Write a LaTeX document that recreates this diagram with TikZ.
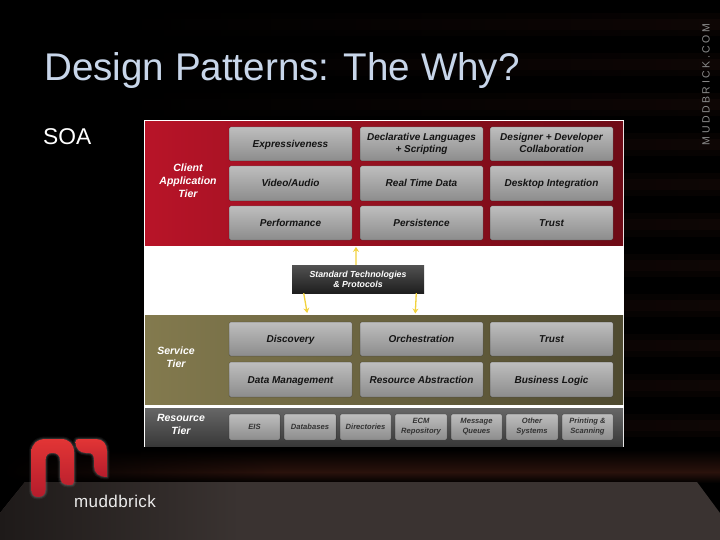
\documentclass[tikz,border=0pt]{standalone}
\usepackage{fontspec}
\setmainfont{Liberation Sans}
\usetikzlibrary{calc,arrows.meta,fadings}
\definecolor{gtop}{HTML}{BEBEBE}
\definecolor{gbot}{HTML}{8C8C8C}
\definecolor{titlecol}{HTML}{C8D6EA}
\definecolor{redL}{HTML}{B81428}
\definecolor{redR}{HTML}{6E0B16}
\definecolor{oliveL}{HTML}{837A4E}
\definecolor{oliveR}{HTML}{4F4A30}
\definecolor{resT}{HTML}{666666}
\definecolor{resB}{HTML}{383838}
\definecolor{floorA}{HTML}{3A3331}
\definecolor{floorB}{HTML}{1E1A19}
\definecolor{bandA}{HTML}{070302}
\definecolor{bandB}{HTML}{0E0605}
\definecolor{glowC}{HTML}{2A120C}
\definecolor{logoT}{HTML}{E23535}
\definecolor{logoB}{HTML}{B41C2C}
\definecolor{arrowY}{HTML}{F2D23C}
\newcommand{\mystrut}{\rule[-0.3em]{0pt}{1.3em}}
\tikzset{
  gbox/.style={rounded corners=1.5pt,top color=gtop,bottom color=gbot,draw=black,draw opacity=0.3,line width=0.5pt,inner sep=0pt,align=center,text=black!92,
    execute at begin node=\mystrut,execute at end node=\mystrut,
    font=\fontsize{10}{12}\selectfont\bfseries\itshape},
  smallbox/.style={gbox,font=\fontsize{7.6}{9.5}\selectfont\bfseries\itshape,text=black!80},
  tierlabel/.style={text=white,align=center,inner sep=0pt,font=\fontsize{10.5}{13}\selectfont\bfseries\itshape},
  panel/.style={inner sep=0pt,minimum width=478pt},
  yarrow/.style={draw=arrowY,line width=1.3pt,-{Stealth[length=5pt,width=6pt]}},
}
\newcommand{\gb}[6]{\node[#1,minimum width=#4pt,minimum height=#5pt] (#2) at (#3) {#6};}
\begin{document}
\begin{tikzpicture}[x=1pt,y=-1pt]
\useasboundingbox (0,0) rectangle (720,540);
\fill[black] (0,0) rectangle (720,540);
% faint stripes
\foreach \yy in {14,54,94,134,174,214,254,294,334,374,414}{
  \shade[left color=black,right color=bandA] (120,\yy) rectangle (720,\yy+22);
  \shade[left color=black,right color=bandB] (120,\yy+6) rectangle (720,\yy+16);
}
% glow above floor
\shade[top color=black,bottom color=glowC] (0,450) rectangle (720,472);
\shade[top color=glowC,bottom color=black] (0,472) rectangle (720,483);
\fill[black,path fading=east] (0,445) rectangle (280,484);
% floor
\fill[floorA] (0,513) -- (25,482) -- (697,482) -- (720,513) -- (720,540) -- (0,540) -- cycle;
\shade[left color=floorB,right color=floorA] (0,513) -- (25,482) -- (240,482) -- (240,540) -- (0,540) -- cycle;
% title
\node[anchor=west,inner sep=0pt,text=titlecol,font=\fontsize{38.6}{42}\selectfont] (title) at (44,71) {Design Patterns: The Why?};
\node[anchor=west,inner sep=0pt,text=white,font=\fontsize{22.8}{26}\selectfont] (soa) at (43,136.5) {SOA};
% white sheet
\fill[white] (144,120) rectangle (624,447);
% panels
\node[panel,minimum height=124pt,left color=redL,right color=redR,anchor=north west] (client) at (145,121) {};
\node[panel,minimum height=89pt,left color=oliveL,right color=oliveR,anchor=north west] (svc) at (145,315) {};
\node[panel,minimum height=38pt,top color=resT,bottom color=resB,anchor=north west] (res) at (145,408) {};
% tier labels
\node[tierlabel] (tc) at (188,181) {Client\\Application\\Tier};
\node[tierlabel] (ts) at (176,357.5) {Service\\Tier};
\node[tierlabel] (tr) at (181,424.5) {Resource\\Tier};
% client boxes
\gb{gbox}{c1}{290.5,144}{123}{34}{Expressiveness}
\gb{gbox}{c2}{421.5,144}{123}{34}{Declarative Languages\\+ Scripting}
\gb{gbox}{c3}{551.5,144}{123}{34}{Designer + Developer\\Collaboration}
\gb{gbox}{c4}{290.5,183.5}{123}{35}{Video/Audio}
\gb{gbox}{c5}{421.5,183.5}{123}{35}{Real Time Data}
\gb{gbox}{c6}{551.5,183.5}{123}{35}{Desktop Integration}
\gb{gbox}{c7}{290.5,223}{123}{34}{Performance}
\gb{gbox}{c8}{421.5,223}{123}{34}{Persistence}
\gb{gbox}{c9}{551.5,223}{123}{34}{Trust}
% service boxes
\gb{gbox}{s1}{290.5,339}{123}{34}{Discovery}
\gb{gbox}{s2}{421.5,339}{123}{34}{Orchestration}
\gb{gbox}{s3}{551.5,339}{123}{34}{Trust}
\gb{gbox}{s4}{290.5,379.5}{123}{35}{Data Management}
\gb{gbox}{s5}{421.5,379.5}{123}{35}{Resource Abstraction}
\gb{gbox}{s6}{551.5,379.5}{123}{35}{Business Logic}
% resource boxes
\gb{smallbox}{r1}{254.5,427}{51}{26}{EIS}
\gb{smallbox}{r2}{310,427}{52}{26}{Databases}
\gb{smallbox}{r3}{365.5,427}{51}{26}{Directories}
\gb{smallbox}{r4}{421,427}{52}{26}{ECM\\Repository}
\gb{smallbox}{r5}{476.5,427}{51}{26}{Message\\Queues}
\gb{smallbox}{r6}{532,427}{52}{26}{Other\\Systems}
\gb{smallbox}{r7}{587.5,427}{51}{26}{Printing \&\\Scanning}
% standard technologies
\node[minimum width=132pt,minimum height=28pt,inner sep=0pt,top color=black!68,bottom color=black!88,text=white,align=center,font=\fontsize{8.8}{10}\selectfont\bfseries\itshape] (std) at (358,279) {Standard Technologies\\\& Protocols};
% connectors
\draw[yarrow] ($(std.north west)!0.485!(std.north east)$) -- ($(client.south west)!0.441!(client.south east)+(0,1.5)$);
\draw[yarrow] ($(std.south west)!0.09!(std.south east)$) -- ($(svc.north west)!0.339!(svc.north east)+(0,-2)$);
\draw[yarrow] ($(std.south west)!0.94!(std.south east)$) -- ($(svc.north west)!0.565!(svc.north east)+(0,-1.5)$);
% logo
\def\logoPA{(31.5,452) .. controls (31.5,444) and (37,439) .. (46,439) -- (61,439) .. controls (69,439) and (74,444) .. (74,452) -- (74,482) .. controls (74,485) and (72,485) .. (69,485) .. controls (63,485) and (60,482) .. (60,476) -- (60,461) .. controls (60,455) and (57,453) .. (52.5,453) .. controls (48,453) and (45.5,455) .. (45.5,461) -- (45.5,490) .. controls (45.5,495) and (42,497) .. (38,497) .. controls (33,497) and (31.5,494) .. (31.5,489) -- cycle}
\def\logoPB{(75.5,442) .. controls (75.5,440) and (76.5,439) .. (79,439) -- (96,439) .. controls (103,439) and (107,444) .. (107,451) -- (107,477) .. controls (99,477) and (94,473) .. (94,466) -- (94,460) .. controls (94,455) and (92,453) .. (88,453) -- (86,453) .. controls (80,453) and (75.5,449) .. (75.5,442) -- cycle}
\foreach \w/\o in {5/0.05,3/0.07,1.5/0.09}{
  \draw[white,line width=\w pt,opacity=\o,line join=round] \logoPA;
  \draw[white,line width=\w pt,opacity=\o,line join=round] \logoPB;
}
\shade[top color=logoT,bottom color=logoB] \logoPA;
\shade[top color=logoT,bottom color=logoB] \logoPB;
\node[inner sep=0pt,text=black!8,font=\fontsize{17}{20}\selectfont\addfontfeatures{LetterSpace=2.5}] (brand) at (115,501) {muddbrick};
% side text
\node[rotate=90,inner sep=0pt,text=black!45,font=\fontsize{10.5}{12}\selectfont\addfontfeatures{LetterSpace=24}] (side) at (706,84.5) {MUDDBRICK.COM};
\end{tikzpicture}
\end{document}
